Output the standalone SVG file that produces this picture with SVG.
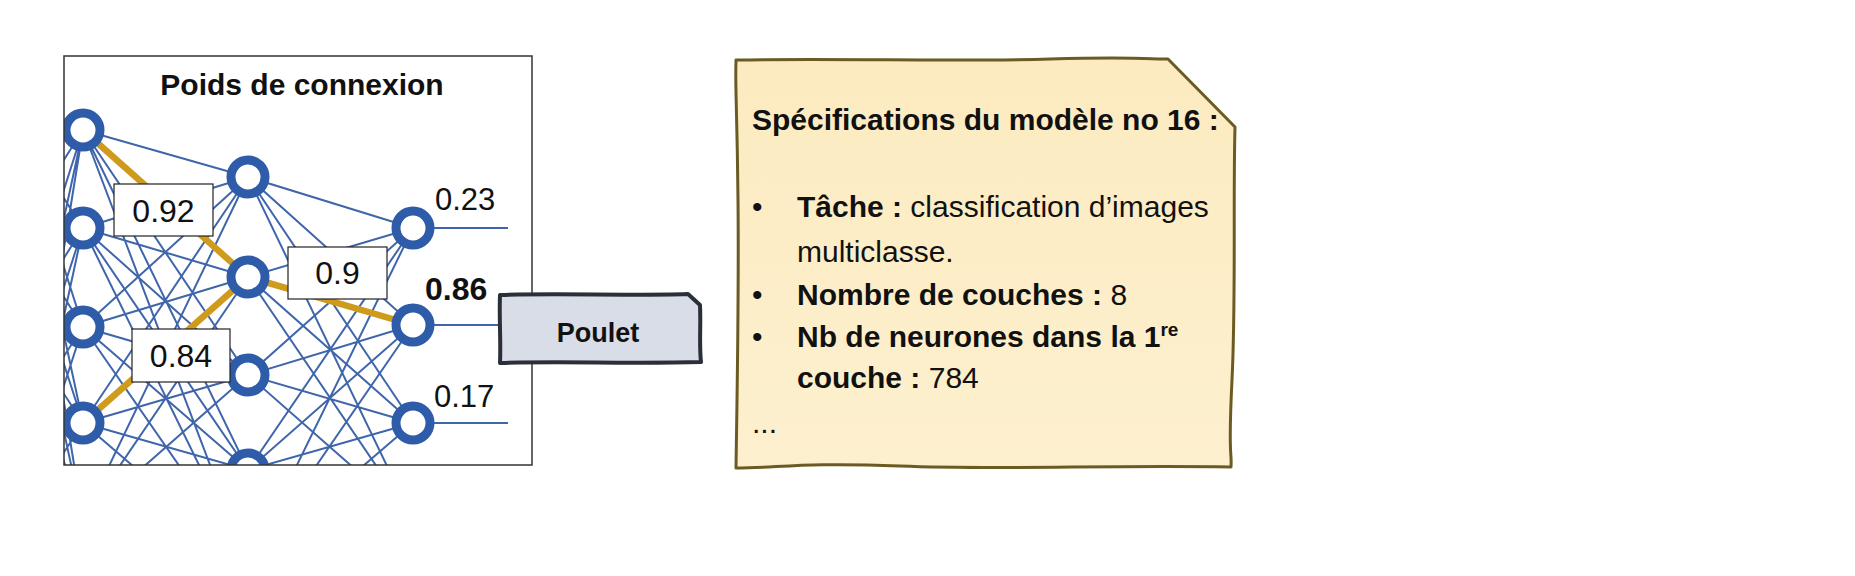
<svg xmlns="http://www.w3.org/2000/svg" width="1855" height="576" viewBox="0 0 1855 576">
<style>
  .t{font-family:"Liberation Sans",Arial,sans-serif;fill:#111}
  .b{font-weight:bold}
  .w{stroke:#3f65ab;stroke-width:2;fill:none}
  .gold{stroke:#cf9b1d;stroke-width:6.5;fill:none}
  .n{fill:#fff;stroke:#2f5ca8;stroke-width:9}
  .lbl{fill:#fff;stroke:#222;stroke-width:1.2}
</style>
<defs>
  <clipPath id="clipNet"><rect x="64" y="56" width="468" height="409"/></clipPath>
  <linearGradient id="note" x1="0" y1="0" x2="0" y2="1">
    <stop offset="0" stop-color="#fcebc0"/>
    <stop offset="1" stop-color="#fdf0cf"/>
  </linearGradient>
</defs>
<rect width="1855" height="576" fill="#fff"/>

<g clip-path="url(#clipNet)">
  <g id="connectors">
    <path class="w" d="M20 130L83 130M20 130L83 228M20 130L83 327M20 130L83 423M20 130L83 520
      M20 228L83 130M20 228L83 228M20 228L83 327M20 228L83 423M20 228L83 520
      M20 327L83 130M20 327L83 228M20 327L83 327M20 327L83 423M20 327L83 520
      M20 423L83 130M20 423L83 228M20 423L83 327M20 423L83 423M20 423L83 520
      M20 520L83 130M20 520L83 228M20 520L83 327M20 520L83 423"/>
    <path class="w" d="M83 130L248 177M83 130L248 277M83 130L248 375M83 130L248 470M83 130L248 565
      M83 228L248 177M83 228L248 277M83 228L248 375M83 228L248 470M83 228L248 565
      M83 327L248 177M83 327L248 277M83 327L248 375M83 327L248 470M83 327L248 565
      M83 423L248 177M83 423L248 277M83 423L248 375M83 423L248 470M83 423L248 565
      M83 520L248 177M83 520L248 277M83 520L248 375M83 520L248 470"/>
    <path class="w" d="M248 177L413 228M248 177L413 325M248 177L413 423M248 177L413 520
      M248 277L413 228M248 277L413 325M248 277L413 423M248 277L413 520
      M248 375L413 228M248 375L413 325M248 375L413 423M248 375L413 520
      M248 470L413 228M248 470L413 325M248 470L413 423M248 470L413 520
      M248 565L413 228M248 565L413 325M248 565L413 423"/>
    <path class="w" d="M413 228L508 228M413 325L508 325M413 423L508 423"/>
    <path class="gold" d="M83 130L248 277M83 423L248 277M248 277L413 325"/>
  </g>
  <g id="neuron-l1-1"><circle class="n" cx="83" cy="130" r="17"/></g>
  <g id="neuron-l1-2"><circle class="n" cx="83" cy="228" r="17"/></g>
  <g id="neuron-l1-3"><circle class="n" cx="83" cy="327" r="17"/></g>
  <g id="neuron-l1-4"><circle class="n" cx="83" cy="423" r="17"/></g>
  <g id="neuron-l2-1"><circle class="n" cx="248" cy="177" r="17"/></g>
  <g id="neuron-l2-2"><circle class="n" cx="248" cy="277" r="17"/></g>
  <g id="neuron-l2-3"><circle class="n" cx="248" cy="375" r="17"/></g>
  <g id="neuron-l2-4"><circle class="n" cx="248" cy="470" r="17"/></g>
  <g id="neuron-l3-1"><circle class="n" cx="413" cy="228" r="17"/></g>
  <g id="neuron-l3-2"><circle class="n" cx="413" cy="325" r="17"/></g>
  <g id="neuron-l3-3"><circle class="n" cx="413" cy="423" r="17"/></g>
</g>

<g id="weight-092">
  <rect class="lbl" x="114" y="184" width="99" height="52"/>
  <text class="t" x="163.5" y="222" font-size="32" text-anchor="middle">0.92</text>
</g>
<g id="weight-09">
  <rect class="lbl" x="288" y="247" width="99" height="52"/>
  <text class="t" x="337.5" y="284" font-size="32" text-anchor="middle">0.9</text>
</g>
<g id="weight-084">
  <rect class="lbl" x="132" y="329" width="98" height="53"/>
  <text class="t" x="181" y="367" font-size="32" text-anchor="middle">0.84</text>
</g>
<g id="outputs">
  <text class="t" x="435" y="210" font-size="31">0.23</text>
  <text class="t b" x="425" y="300" font-size="32">0.86</text>
  <text class="t" x="434" y="407" font-size="31">0.17</text>
</g>

<g id="frame">
  <rect x="64" y="56" width="468" height="409" fill="none" stroke="#333" stroke-width="1.5"/>
  <text class="t b" x="302" y="95" font-size="30" text-anchor="middle">Poids de connexion</text>
</g>

<g id="poulet">
  <path d="M500 295 C560 293 630 296 688 294 L700 305 C701 325 699 345 701 362 C630 364 560 361 500 363 C501 340 499 318 500 295 Z" fill="#d8dde7" stroke="#2b2f38" stroke-width="4" stroke-linejoin="round"/>
  <text class="t b" x="598" y="342" font-size="27" text-anchor="middle" fill="#2a2a2a">Poulet</text>
</g>

<g id="spec-note">
  <path d="M736 60 C850 58 950 62 1050 59 S1150 60 1168 59 L1235 127 C1233 200 1236 300 1232 380 S1232 450 1231 467 C1100 465 1000 470 900 466 S780 468 736 468 C737 400 739 300 738 200 S735 90 736 60 Z" fill="url(#note)" stroke="#6b5b23" stroke-width="3" stroke-linejoin="round"/>
  <text class="t b" x="752" y="130" font-size="30">Spécifications du modèle no 16 :</text>
  <text class="t" x="752" y="217" font-size="30">•</text>
  <text class="t" x="797" y="217" font-size="30"><tspan class="b">Tâche :</tspan> classification d’images</text>
  <text class="t" x="797" y="262" font-size="30">multiclasse.</text>
  <text class="t" x="752" y="305" font-size="30">•</text>
  <text class="t" x="797" y="305" font-size="30"><tspan class="b">Nombre de couches :</tspan> 8</text>
  <text class="t" x="752" y="347" font-size="30">•</text>
  <text class="t b" x="797" y="347" font-size="30">Nb de neurones dans la 1<tspan font-size="19" dy="-11">re</tspan></text>
  <text class="t" x="797" y="388" font-size="30"><tspan class="b">couche :</tspan> 784</text>
  <text class="t" x="752" y="433" font-size="30">...</text>
</g>
</svg>
